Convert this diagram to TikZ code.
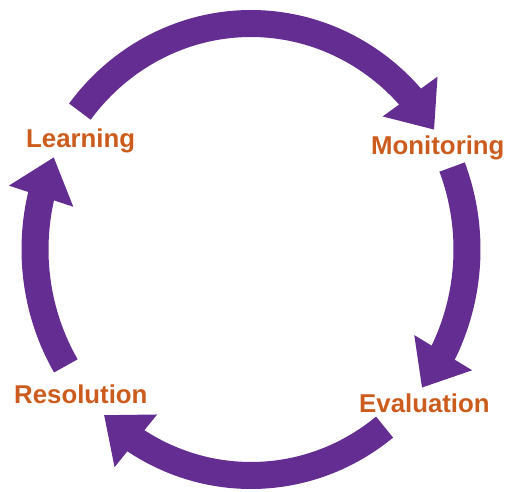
\documentclass[tikz,border=0pt]{standalone}
\usepackage{fontspec}
\setmainfont{Liberation Sans}
\usetikzlibrary{arrows.meta,bending}
\definecolor{cyclepurple}{RGB}{100,45,145}
\definecolor{labelorange}{RGB}{204,92,29}
\tikzset{
  cyclearrow/.style={draw=cyclepurple, line width=27pt, line cap=butt,
    -{Triangle[length=41pt,width=65pt,flex]}},
  steplabel/.style={anchor=base west, inner sep=0pt, text=labelorange,
    font=\fontsize{25.8}{30}\selectfont\bfseries}
}
\begin{document}
\begin{tikzpicture}[x=1pt,y=1pt]
\useasboundingbox (0,0) rectangle (506,491);
\coordinate (c) at (251,241.5);
% labels (pixel y converted: Y = 491 - y)
\node[steplabel] (learning) at (26,344) {Learning};
\node[steplabel] (monitoring) at (371,336) {Monitoring};
\node[steplabel] (evaluation) at (359,79) {Evaluation};
\node[steplabel] (resolution) at (14,88) {Resolution};
% arcs
\draw[cyclearrow] (c) ++(142.4:216pt and 226pt) arc[start angle=142.4, end angle=32, x radius=216pt, y radius=226pt];
\draw[cyclearrow] (c) ++(21.4:216pt and 226pt) arc[start angle=21.4, end angle=-37.7, x radius=216pt, y radius=226pt];
\draw[cyclearrow] (c) ++(-51.8:216pt and 226pt) arc[start angle=-51.8, end angle=-132.9, x radius=216pt, y radius=226pt];
\draw[cyclearrow] (c) ++(211:216pt and 226pt) arc[start angle=211, end angle=155.9, x radius=216pt, y radius=226pt];
\end{tikzpicture}
\end{document}
